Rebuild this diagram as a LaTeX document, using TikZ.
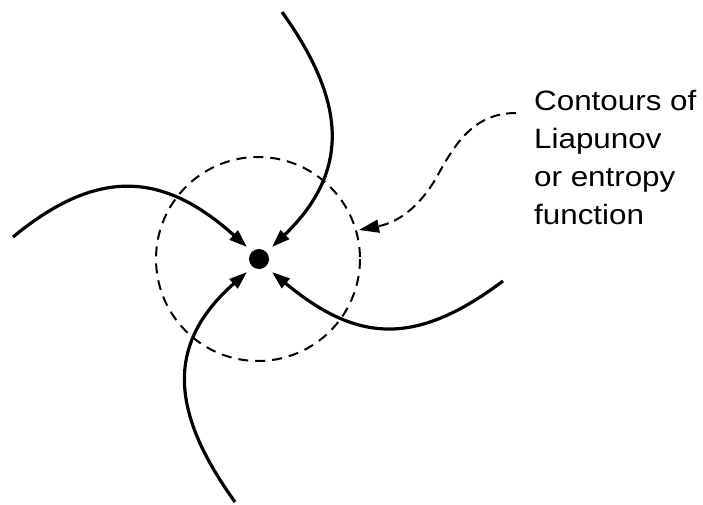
\documentclass[tikz,border=0pt]{standalone}
\usepackage{fontspec}
\newfontfamily\labelfont[FakeStretch=1.12]{Liberation Sans}
\usetikzlibrary{arrows.meta}
\begin{document}
\begin{tikzpicture}[x=1pt,y=-1pt,
  flow/.style={line width=3.2pt,-{Triangle[length=18pt,width=12pt]}},
  contour/.style={line width=2pt,dash pattern=on 10pt off 7pt},
  leader/.style={line width=2pt,dash pattern=on 10pt off 6pt,-{Triangle[length=20pt,width=13pt]}},
  lbl/.style={font=\labelfont\fontsize{28pt}{38pt}\selectfont,align=left,inner sep=0pt,anchor=base west}]
\useasboundingbox (0,0) rectangle (703,505);
\node[circle,fill=black,minimum size=20pt,inner sep=0pt] (c) at (259,259) {};
\draw[contour] (258,259) circle[radius=102];
% flow curves
\coordinate (u0) at (282,12);  \coordinate (u1) at (272,247);
\coordinate (l0) at (13,237);  \coordinate (l1) at (247,247);
\coordinate (r0) at (503,281); \coordinate (r1) at (272,272);
\coordinate (b0) at (235,502); \coordinate (b1) at (247,272);
\draw[flow] (u0) .. controls (345,100) and (352,170) .. (u1);
\draw[flow] (l0) .. controls (99,166) and (164.5,173) .. (l1);
\draw[flow] (r0) .. controls (415,347) and (356.7,342.4) .. (r1);
\draw[flow] (b0) .. controls (171,413) and (164.5,344.6) .. (b1);
% label
\node[lbl] (t) at (534,224) {Contours of\\Liapunov\\or entropy\\function};
\coordinate (s) at (516,113);
\coordinate (m) at (435,180);
\coordinate (e) at (359,230);
\draw[leader] (s) .. controls (470,113) and (452,150) .. (m)
  .. controls (420,205) and (400,222) .. (e);
\end{tikzpicture}
\end{document}
